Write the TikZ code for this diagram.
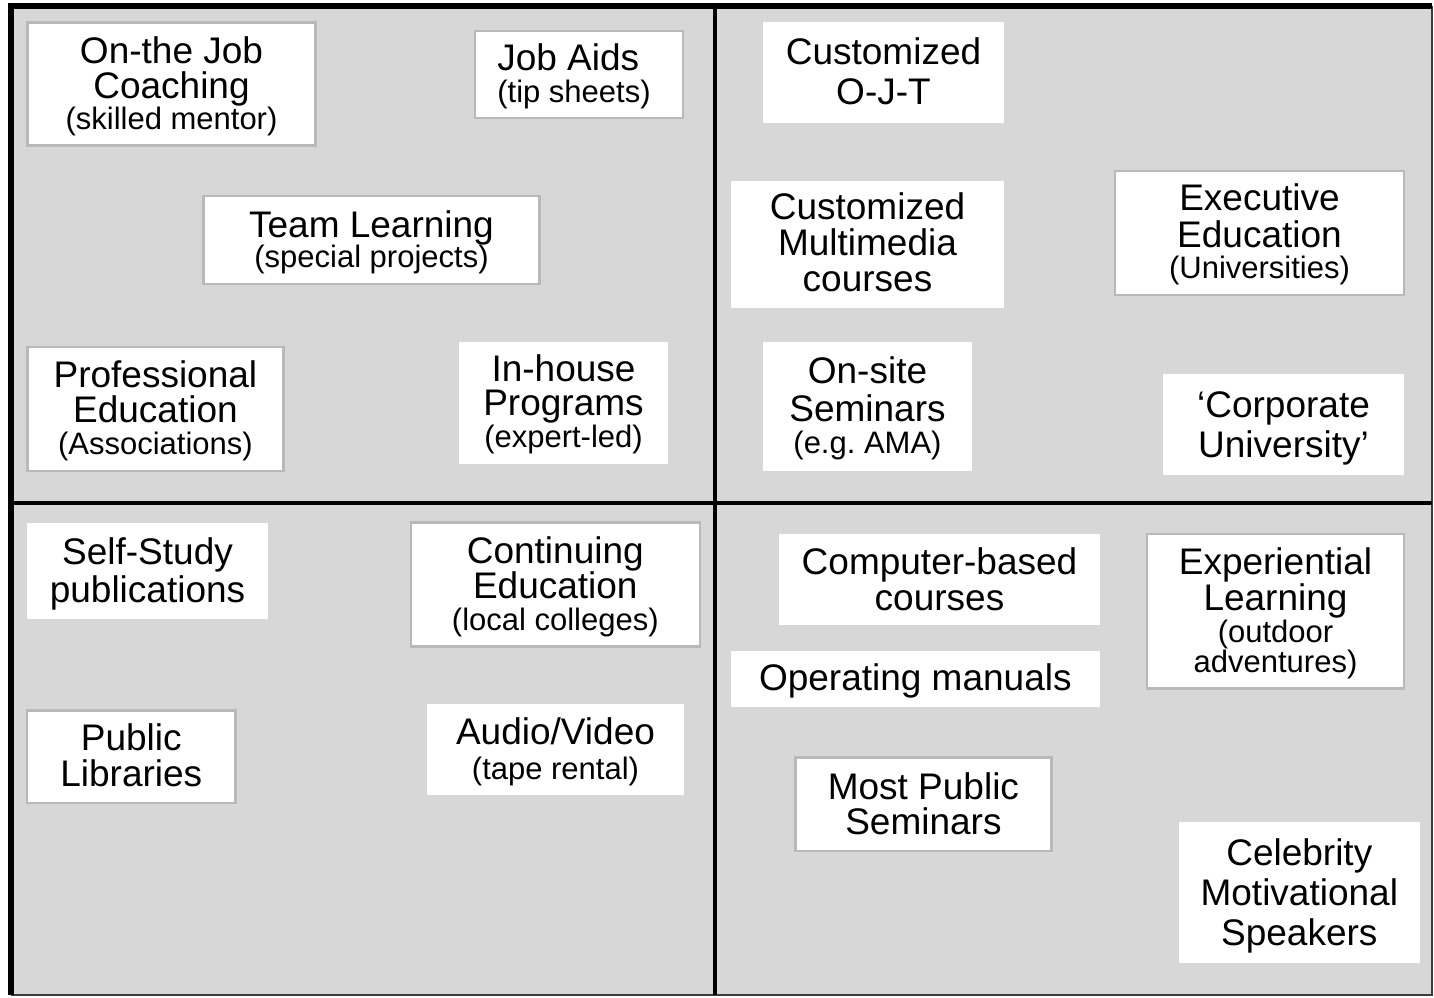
\documentclass[tikz,border=0pt]{standalone}
\usepackage{fontspec}
\setmainfont{Liberation Sans}
\definecolor{bg}{RGB}{215,215,215}
\definecolor{boxgray}{RGB}{185,185,185}
\definecolor{edge}{RGB}{60,60,60}
\newcommand\subf{\fontsize{31}{35}\selectfont}
\begin{document}
\begin{tikzpicture}[x=1pt,y=-1pt,
  card/.style={fill=white, inner sep=0pt, outer sep=0pt},
  txt/.style={inner sep=0pt, outer sep=0pt, align=center,
    font=\fontsize{37}{35}\selectfont},
  rim/.style={draw=boxgray, line width=2.5pt},
  sz/.style 2 args={minimum width=#1, minimum height=#2}]
\useasboundingbox (0,0) rectangle (1434,997);
% background and frame
\fill[bg] (11,6) rectangle (1432,995);
\draw[edge, line width=1.5pt] (1432,6) -- (1432,995) -- (11,995);
\draw[black, line width=6pt, line join=miter] (11,995) -- (11,6) -- (1432,6);
\draw[black, line width=4pt] (715,6) -- (715,995);
\draw[black, line width=4pt] (11,502.5) -- (1432,502.5);
% top-left quadrant
\node[card, rim, sz={288pt}{123pt}] (ojc) at (171.5,84.2) {};
\node[txt] (ojc-t) at ([yshift=-2pt]ojc.center) {On-the Job\\Coaching\\[-4pt]\subf (skilled mentor)};
\node[card, rim, sz={208pt}{87pt}] (aids) at (579,74.7) {};
\node[txt, align=left] (aids-t) at ([xshift=-5pt,yshift=-2pt]aids.center) {Job Aids\\[-3pt]\subf (tip sheets)};
\node[card, rim, sz={336pt}{88pt}] (team) at (371.5,240) {};
\node[txt] (team-t) at ([yshift=-2pt]team.center) {Team Learning\\[-5pt]\subf (special projects)};
\node[card, rim, sz={256pt}{124pt}] (prof) at (155.4,408.8) {};
\node[txt] (prof-t) at ([yshift=-1.5pt]prof.center) {Professional\\Education\\[-3pt]\subf (Associations)};
\node[card, sz={209pt}{122pt}] (inhouse) at (563.5,402.8) {};
\node[txt] (inhouse-t) at ([yshift=-1.5pt]inhouse.center) {In-house\\[-1pt]Programs\\[-3pt]\subf (expert-led)};
% top-right quadrant
\node[card, sz={241pt}{101pt}] (cojt) at (883.5,72.3) {};
\node[txt] (cojt-t) at ([yshift=1.5pt]cojt.center) {Customized\\[5pt]O-J-T};
\node[card, sz={273pt}{127pt}] (cmm) at (867.5,244.3) {};
\node[txt] (cmm-t) at ([yshift=2pt]cmm.center) {Customized\\[1pt]Multimedia\\[1pt]courses};
\node[card, rim, sz={289pt}{124pt}] (exec) at (1259.5,232.8) {};
\node[txt] (exec-t) at ([yshift=-1pt]exec.center) {Executive\\[2pt]Education\\[-4pt]\subf (Universities)};
\node[card, sz={209pt}{129pt}] (onsite) at (867.5,406.3) {};
\node[txt] (onsite-t) at ([yshift=-2pt]onsite.center) {On-site\\[3pt]Seminars\\[-3pt]\subf (e.g.\ AMA)};
\node[card, sz={241pt}{101pt}] (corp) at (1283.5,424.3) {};
\node[txt] (corp-t) at ([yshift=-4pt]corp.center) {‘Corporate\\[5pt]University’};
% bottom-left quadrant
\node[card, sz={241pt}{96pt}] (self) at (147.5,570.8) {};
\node[txt] (self-t) at ([yshift=-3.5pt]self.center) {Self-Study\\[3pt]publications};
\node[card, rim, sz={289pt}{124pt}] (cont) at (555.3,584.7) {};
\node[txt] (cont-t) at ([yshift=-2pt]cont.center) {Continuing\\Education\\[-3pt]\subf (local colleges)};
\node[card, rim, sz={208.5pt}{92.7pt}] (lib) at (131.3,756.7) {};
\node[txt] (lib-t) at ([yshift=1pt]lib.center) {Public\\[1pt]Libraries};
\node[card, sz={257pt}{90.7pt}] (av) at (555.5,749.3) {};
\node[txt] (av-t) at ([yshift=-2pt]av.center) {Audio/Video\\\subf (tape rental)};
% bottom-right quadrant
\node[card, sz={320.5pt}{90.7pt}] (cbc) at (939.5,579.3) {};
\node[txt] (cbc-t) at (cbc.center) {Computer-based\\[1pt]courses};
\node[card, sz={368.7pt}{55.7pt}] (opm) at (915.3,678.8) {};
\node[txt] (opm-t) at ([yshift=-2pt]opm.center) {Operating manuals};
\node[card, rim, sz={257pt}{154.7pt}] (exp) at (1275.5,611.3) {};
\node[txt] (exp-t) at ([yshift=-2pt]exp.center) {Experiential\\[1pt]Learning\\[-3pt]\subf (outdoor\\[-5pt]\subf adventures)};
\node[card, rim, sz={256.2pt}{93.3pt}] (mps) at (923.4,804.3) {};
\node[txt] (mps-t) at ([yshift=1pt]mps.center) {Most Public\\Seminars};
\node[card, sz={240.7pt}{140.7pt}] (celeb) at (1299.3,892.3) {};
\node[txt] (celeb-t) at ([yshift=-3.5pt]celeb.center) {Celebrity\\[5pt]Motivational\\[5pt]Speakers};
\end{tikzpicture}
\end{document}
